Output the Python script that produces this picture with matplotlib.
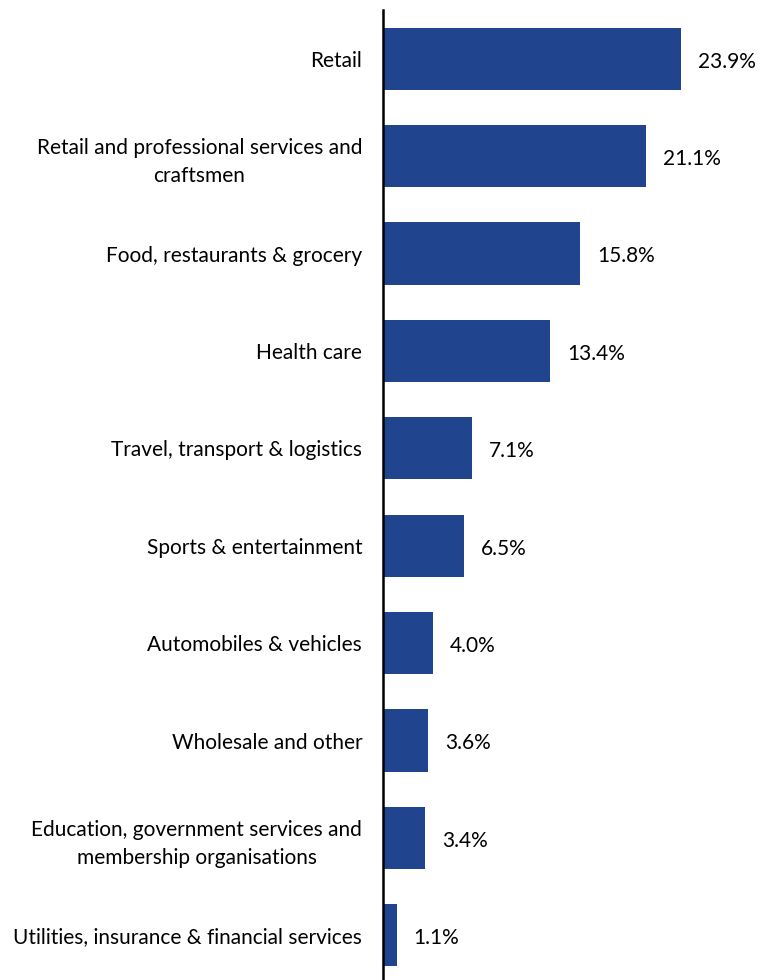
import matplotlib.pyplot as plt
import numpy as np

plt.rcParams['font.family'] = ['Lato', 'DejaVu Sans']

categories = ['Retail',
              'Retail and professional services and\ncraftsmen',
              'Food, restaurants & grocery',
              'Health care',
              'Travel, transport & logistics',
              'Sports & entertainment',
              'Automobiles & vehicles',
              'Wholesale and other',
              'Education, government services and\nmembership organisations',
              'Utilities, insurance & financial services']
shares = [23.9, 21.1, 15.8, 13.4, 7.1, 6.5, 4.0, 3.6, 3.4, 1.1]

fig = plt.figure(figsize=(7.59, 9.8), dpi=100)
ax = fig.add_axes([383 / 759, -4 / 980, 376 / 759, 974 / 980])

y_pos = np.arange(len(categories))
ax.barh(y_pos, shares, height=0.64, color='#21448E')

# value labels (sit a touch below bar centre in the original)
for y, v in zip(y_pos, shares):
    ax.text(v + 1.35, y + 0.03, f'{v:.1f}%', va='center', ha='left', fontsize=15)

ax.set_yticks(y_pos)
ax.set_yticklabels(categories, fontsize=15, linespacing=1.5)
for lab in ax.get_yticklabels():
    lab.set_multialignment('center')
ax.tick_params(axis='y', length=0, pad=15)
ax.set_xticks([])
ax.set_xlim(0, 30.15)
ax.set_ylim(9.5, -0.5)

for s in ['top', 'right', 'bottom']:
    ax.spines[s].set_visible(False)
ax.spines['left'].set_linewidth(1.8)
ax.spines['left'].set_color('black')

plt.savefig('out.png', dpi=100)
